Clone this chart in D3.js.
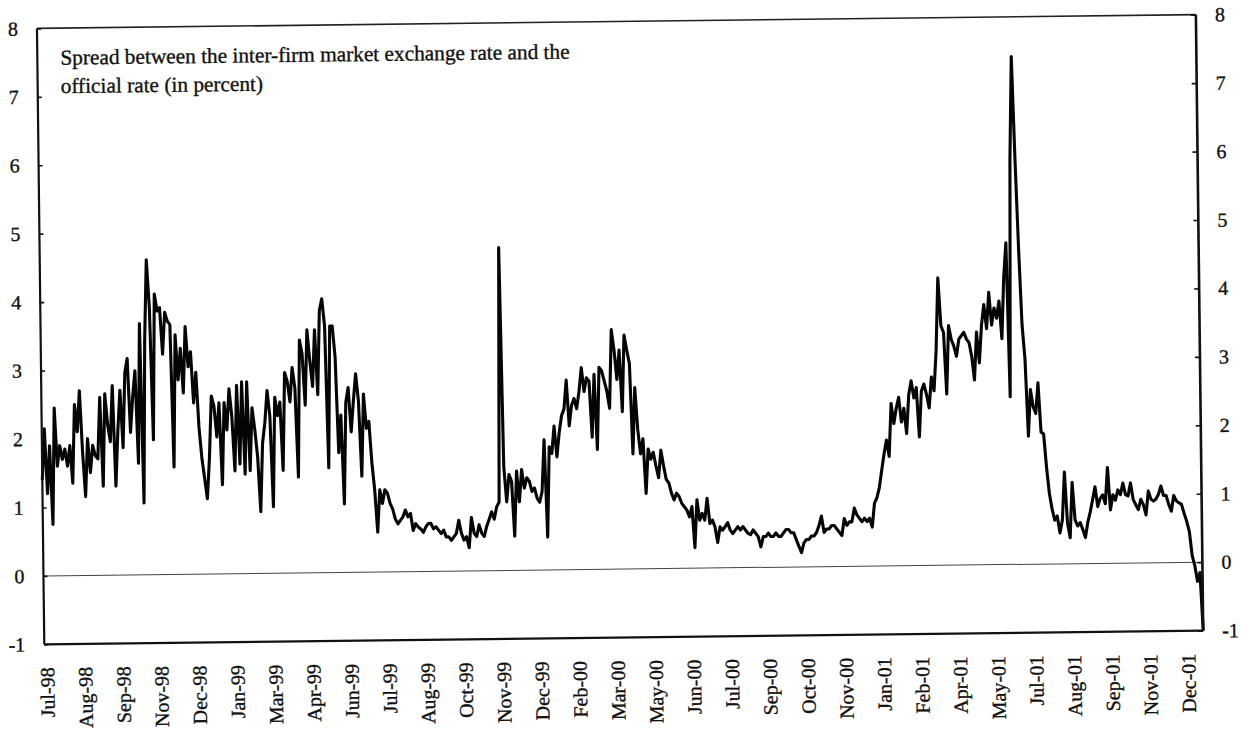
<!DOCTYPE html>
<html>
<head>
<meta charset="utf-8">
<script src="https://cdn.jsdelivr.net/npm/d3@7"></script>
<style>
  html, body { margin: 0; padding: 0; background: #fff; }
  svg { display: block; }
  text { font-family: "Liberation Serif", "Times New Roman", serif; fill: #111; }
</style>
</head>
<body>
<svg id="chart" width="1241" height="729"></svg>
<script>
// Month labels shown under the axis (one every 15 observations)
const categories = [
  "Jul-98", "Aug-98", "Sep-98", "Nov-98", "Dec-98", "Jan-99", "Mar-99", "Apr-99",
  "Jun-99", "Jul-99", "Aug-99", "Oct-99", "Nov-99", "Dec-99", "Feb-00", "Mar-00",
  "May-00", "Jun-00", "Jul-00", "Sep-00", "Oct-00", "Nov-00", "Jan-01", "Feb-01",
  "Apr-01", "May-01", "Jul-01", "Aug-01", "Sep-01", "Nov-01", "Dec-01"
];

// Spread between inter-firm market rate and official rate, percent
const spread = [
  1.4, 2.15, 1.2, 1.9, 0.75, 2.45, 1.6, 1.9, 1.7, 1.85, 1.6, 1.9, 1.35, 2.5, 2.1,
  2.7, 1.8, 1.15, 2.0, 1.5, 1.9, 1.75, 1.7, 2.6, 1.3, 2.65, 2.2, 1.95, 2.77, 1.3,
  2.1, 2.7, 1.86, 2.95, 3.16, 2.08, 2.6, 2.98, 1.63, 3.67, 1.05, 3.42, 4.6, 3.9, 1.97,
  4.1, 3.85, 3.9, 3.22, 3.83, 3.7, 3.65, 1.57, 3.5, 2.84, 3.3, 2.65, 3.62, 3.03, 3.25,
  2.5, 2.95, 2.15, 1.7, 1.4, 1.1, 1.7, 2.6, 2.45, 2.0, 2.5, 1.3, 2.5, 2.1, 2.7,
  2.3, 1.5, 2.75, 1.6, 2.8, 1.45, 2.8, 1.5, 2.42, 2.1, 1.7, 0.9, 1.9, 2.2, 2.67,
  2.3, 0.97, 2.57, 2.3, 2.5, 1.5, 2.93, 2.8, 2.5, 3.0, 2.7, 1.4, 3.4, 3.2, 2.45,
  3.55, 3.1, 2.72, 3.55, 2.6, 3.83, 4.0, 3.6, 1.53, 3.6, 3.6, 3.15, 1.75, 2.3, 1.0,
  2.48, 2.7, 2.05, 2.5, 2.9, 2.5, 1.4, 2.6, 2.1, 2.2, 1.6, 1.2, 0.58, 1.2, 1.0,
  1.2, 1.15, 1.0, 0.92, 0.77, 0.7, 0.75, 0.8, 0.9, 0.8, 0.85, 0.6, 0.7, 0.65, 0.62,
  0.57, 0.65, 0.7, 0.7, 0.62, 0.65, 0.6, 0.55, 0.6, 0.5, 0.5, 0.45, 0.5, 0.55, 0.74,
  0.55, 0.45, 0.5, 0.34, 0.78, 0.55, 0.5, 0.67, 0.55, 0.5, 0.65, 0.75, 0.86, 0.75, 0.93,
  1.0, 4.72, 1.51, 1.0, 1.4, 1.3, 0.5, 1.45, 1.0, 1.47, 1.2, 1.35, 1.3, 1.15, 1.2,
  1.05, 0.99, 1.15, 1.9, 0.48, 1.8, 1.7, 2.1, 1.65, 2.0, 2.25, 2.35, 2.77, 2.1, 2.4,
  2.5, 2.35, 2.6, 2.95, 2.6, 2.8, 2.75, 1.93, 2.85, 1.75, 2.95, 2.9, 2.75, 2.6, 2.35,
  3.5, 3.2, 2.77, 3.2, 2.3, 3.42, 3.2, 3.0, 1.68, 2.65, 2.03, 1.68, 1.9, 1.1, 1.75,
  1.6, 1.7, 1.5, 1.33, 1.73, 1.5, 1.3, 1.25, 1.1, 1.0, 1.1, 1.05, 0.95, 0.9, 0.85,
  0.75, 0.9, 0.3, 1.0, 0.7, 0.8, 0.7, 1.02, 0.65, 0.7, 0.6, 0.37, 0.6, 0.55, 0.6,
  0.66, 0.55, 0.5, 0.55, 0.6, 0.55, 0.6, 0.55, 0.5, 0.48, 0.55, 0.5, 0.45, 0.3, 0.45,
  0.45, 0.5, 0.45, 0.45, 0.5, 0.45, 0.45, 0.5, 0.55, 0.55, 0.5, 0.5, 0.4, 0.3, 0.21,
  0.35, 0.4, 0.4, 0.45, 0.45, 0.5, 0.6, 0.74, 0.5, 0.55, 0.55, 0.6, 0.6, 0.55, 0.5,
  0.45, 0.7, 0.6, 0.65, 0.65, 0.85, 0.75, 0.7, 0.65, 0.7, 0.65, 0.7, 0.57, 0.92, 1.0,
  1.15, 1.4, 1.64, 1.84, 1.6, 2.37, 2.08, 2.3, 2.46, 2.1, 2.3, 1.93, 2.5, 2.7, 2.45,
  2.6, 1.88, 2.55, 2.65, 2.5, 2.3, 2.75, 2.55, 3.14, 4.2, 3.5, 3.4, 2.5, 3.5, 3.3,
  3.2, 3.05, 3.3, 3.35, 3.4, 3.3, 3.25, 3.05, 2.7, 3.4, 2.95, 3.5, 3.8, 3.45, 3.98,
  3.5, 3.75, 3.6, 3.85, 3.3, 4.2, 4.7, 2.45, 5.9, 7.42, 5.9, 4.6, 3.5, 3.0, 1.87,
  2.55, 2.3, 2.2, 2.65, 1.93, 1.9, 1.41, 1.03, 0.8, 0.64, 0.7, 0.45, 0.64, 1.34, 0.6,
  0.38, 1.19, 0.64, 0.55, 0.6, 0.5, 0.38, 0.6, 0.75, 0.93, 1.12, 0.83, 0.95, 1.0, 0.87,
  1.4, 0.78, 1.0, 0.92, 1.07, 1.0, 1.17, 1.0, 0.98, 1.17, 0.93, 0.85, 0.78, 0.93, 0.85,
  0.7, 1.05, 0.93, 0.9, 0.93, 1.0, 1.12, 0.98, 0.98, 0.85, 0.75, 0.98, 0.9, 0.87, 0.85,
  0.72, 0.6, 0.45, 0.1, -0.05, -0.28, -0.15, -1.0
];

const yTicks = [-1, 0, 1, 2, 3, 4, 5, 6, 7, 8];
const titleLines = [
  "Spread between the inter-firm market exchange rate and the",
  "official rate (in percent)"
];

const LABEL_STEP = 15;   // observations between month labels
const LABEL_START = 1;   // observation index of the first label

const svg = d3.select("#chart");
const W = 1241, H = 729;
const plot = { left: 41, right: 1200, top: 21.5, bottom: 637.5 };
const FONT = 20;
const TITLE_FONT = 21.3;

// the printed figure sits slightly askew on the page
const root = svg.append("g").attr("transform", `rotate(-0.68, ${W / 2}, ${H / 2})`);

const x = d3.scaleLinear().domain([0, spread.length - 1]).range([plot.left, plot.right]);
const y = d3.scaleLinear().domain([-1, 8]).range([plot.bottom, plot.top]);

// zero reference line
root.append("line")
  .attr("x1", plot.left).attr("x2", plot.right)
  .attr("y1", y(0)).attr("y2", y(0))
  .attr("stroke", "#444").attr("stroke-width", 1);

// spread series
const line = d3.line().x((d, i) => x(i)).y(d => y(d));
root.append("path")
  .datum(spread)
  .attr("d", line)
  .attr("fill", "none")
  .attr("stroke", "#050505")
  .attr("stroke-width", 3.1)
  .attr("stroke-linejoin", "round");

// frame
root.append("line").attr("x1", plot.left).attr("x2", plot.right)
  .attr("y1", plot.top).attr("y2", plot.top)
  .attr("stroke", "#222").attr("stroke-width", 1.6);
root.append("line").attr("x1", plot.left).attr("x2", plot.right)
  .attr("y1", plot.bottom).attr("y2", plot.bottom)
  .attr("stroke", "#111").attr("stroke-width", 2.2);
root.append("line").attr("x1", plot.left).attr("x2", plot.left)
  .attr("y1", plot.top).attr("y2", plot.bottom)
  .attr("stroke", "#111").attr("stroke-width", 2.2);
root.append("line").attr("x1", plot.right).attr("x2", plot.right)
  .attr("y1", plot.top).attr("y2", plot.bottom)
  .attr("stroke", "#111").attr("stroke-width", 2.6);

const fmt = d => String(d);   // plain hyphen for negatives

// left axis
const leftAxis = root.append("g")
  .attr("transform", `translate(${plot.left},0)`)
  .call(d3.axisLeft(y).tickValues(yTicks).tickSize(-4).tickPadding(19).tickFormat(fmt));
// right axis
const rightAxis = root.append("g")
  .attr("transform", `translate(${plot.right},0)`)
  .call(d3.axisRight(y).tickValues(yTicks).tickSize(-5).tickPadding(19).tickFormat(fmt));

function styleText(sel, size) {
  sel.attr("font-family", "Liberation Serif, Times New Roman, serif")
    .attr("font-size", size)
    .attr("fill", "#111")
    .attr("stroke", "#111")
    .attr("stroke-width", 0.35);
}

[leftAxis, rightAxis].forEach(g => {
  g.select(".domain").remove();
  g.selectAll(".tick line").attr("stroke", "#111").attr("stroke-width", 1.6);
  styleText(g.selectAll(".tick text"), FONT);
});

// bottom axis with month labels
const labelIdx = categories.map((c, k) => LABEL_START + k * LABEL_STEP);
const bottomAxis = root.append("g")
  .attr("transform", `translate(0,${plot.bottom})`)
  .call(d3.axisBottom(x).tickValues(labelIdx).tickSize(0)
    .tickFormat((d, k) => categories[k]));
bottomAxis.select(".domain").remove();
styleText(bottomAxis.selectAll(".tick text"), FONT);
bottomAxis.selectAll(".tick text")
  .attr("transform", "rotate(-90)")
  .attr("text-anchor", "end")
  .attr("x", -23)
  .attr("y", 0)
  .attr("dy", "0.33em");

// title inside the plot
const title = root.append("g").selectAll("text")
  .data(titleLines)
  .join("text")
  .attr("x", 64)
  .attr("y", (d, i) => 58 + i * 28.5)
  .text(d => d);
styleText(title, TITLE_FONT);
</script>
</body>
</html>
